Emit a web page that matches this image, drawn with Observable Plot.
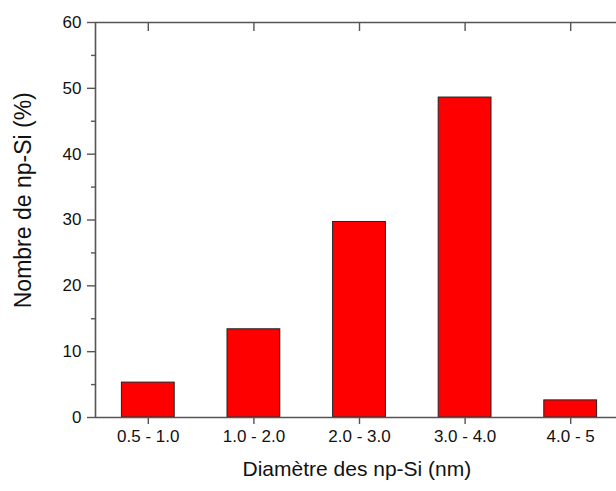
<!DOCTYPE html>
<html>
<head>
<meta charset="utf-8">
<script src="https://cdn.jsdelivr.net/npm/d3@7"></script>
<script src="https://cdn.jsdelivr.net/npm/@observablehq/plot@0.6"></script>
<style>
  html, body { margin: 0; padding: 0; background: #fff; }
  #chart svg { display: block; }
</style>
</head>
<body>
<div id="chart"></div>
<script>
const categories = ["0.5 - 1.0", "1.0 - 2.0", "2.0 - 3.0", "3.0 - 4.0", "4.0 - 5"];
const values = [5.3, 13.4, 29.7, 48.6, 2.6];
const yMajorTicks = [0, 10, 20, 30, 40, 50, 60];
const yMinorTicks = [5, 15, 25, 35, 45, 55];
const xLabel = "Diamètre des np-Si (nm)";
const yLabel = "Nombre de np-Si (%)";

const data = categories.map((c, i) => ({i, c, v: values[i]}));
const idx = categories.map((c, i) => i);
const axisColor = "#555";
const font = "'Liberation Sans', Arial, Helvetica, sans-serif";

const chart = Plot.plot({
  width: 616,
  height: 491,
  marginLeft: 95,
  marginRight: -7,
  marginTop: 22,
  marginBottom: 74,
  style: {fontFamily: font, background: "#fff", overflow: "hidden"},
  x: {type: "linear", domain: [-0.5, 4.5]},
  y: {type: "linear", domain: [0, 60]},
  marks: [
    Plot.rectY(data, {x1: d => d.i - 0.25, x2: d => d.i + 0.25, y1: 0, y2: "v", fill: "#ff0000", stroke: "#222", strokeWidth: 1}),
    Plot.ruleY([0, 60], {stroke: axisColor, strokeWidth: 1.6}),
    Plot.ruleX([-0.5, 4.5], {stroke: axisColor, strokeWidth: 1.6}),
    Plot.axisY({anchor: "left", ticks: yMajorTicks, tickSize: 8, tickPadding: 6, fontSize: 17, stroke: axisColor, fill: "#111", strokeWidth: 1.4, label: null}),
    Plot.axisY({anchor: "left", ticks: yMinorTicks, tickSize: 4, text: null, stroke: axisColor, strokeWidth: 1.4, label: null}),
    Plot.axisY({anchor: "right", ticks: yMajorTicks, tickSize: -8, text: null, stroke: axisColor, strokeWidth: 1.4, label: null}),
    Plot.axisX({anchor: "bottom", ticks: idx, tickSize: 7, tickPadding: 5, fontSize: 17, stroke: axisColor, fill: "#111", strokeWidth: 1.4, tickFormat: i => categories[i], label: null}),
    Plot.axisX({anchor: "top", ticks: idx, tickSize: -8, text: null, stroke: axisColor, strokeWidth: 1.4, label: null}),
    Plot.text([xLabel], {x: 1.975, y: 0, dy: 52, text: d => d, fontSize: 21, fill: "#111", textAnchor: "middle"}),
    Plot.text([yLabel], {x: -0.5, y: 33, dx: -72, text: d => d, fontSize: 23, fill: "#111", rotate: -90, textAnchor: "middle"})
  ]
});
document.getElementById("chart").appendChild(chart);
</script>
</body>
</html>
